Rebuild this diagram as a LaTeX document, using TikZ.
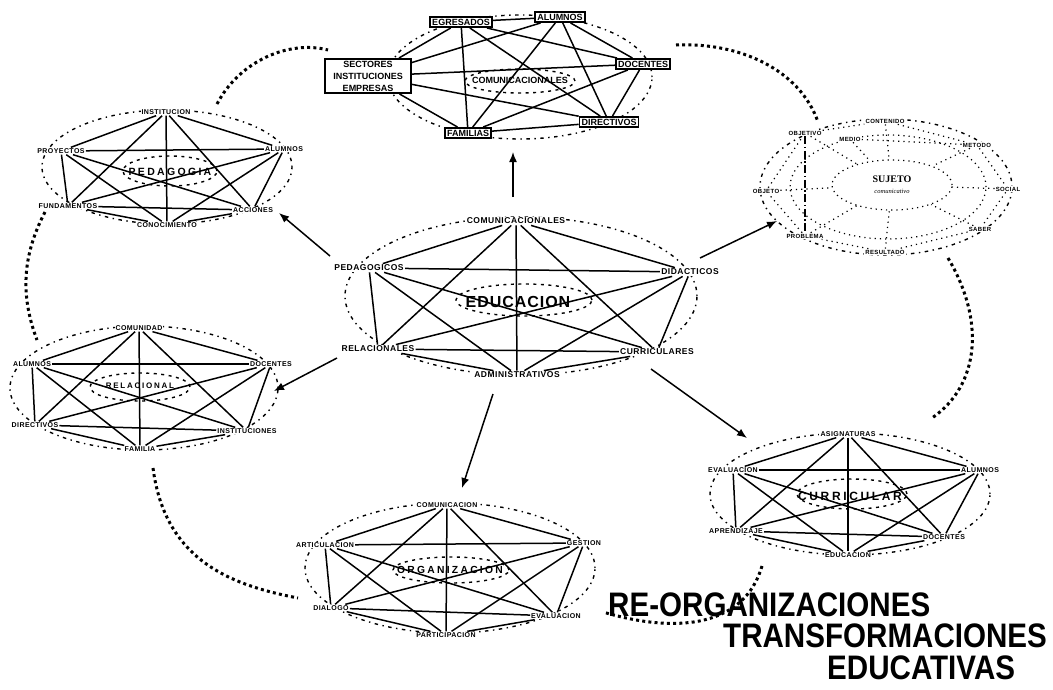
\documentclass[tikz,border=0pt]{standalone}
\usepackage{fontspec}
\setmainfont{Liberation Sans}
\newfontfamily\labfont[LetterSpace=6]{Liberation Sans}
\newfontfamily\widefont[LetterSpace=22]{Liberation Sans}
\newfontfamily\midfont[LetterSpace=6]{Liberation Sans}
\newfontfamily\serfont{Liberation Serif}
\usetikzlibrary{arrows.meta,shapes.geometric}
\newcommand\drawksix[1]{\foreach \a/\b in {1/2,1/3,1/4,1/5,1/6,2/3,2/4,2/5,2/6,3/4,3/5,3/6,4/5,4/6,5/6} {\draw[edge] (#1\a) -- (#1\b);}}
\begin{document}
\begin{tikzpicture}[x=1pt,y=-1pt,
  lab/.style={font=\labfont\bfseries\fontsize{7}{8}\selectfont, inner sep=1pt, fill=white},
  elab/.style={font=\labfont\bfseries\fontsize{8.5}{10}\selectfont, inner sep=1.2pt, fill=white},
  slab/.style={font=\labfont\bfseries\fontsize{6}{7}\selectfont, inner sep=1pt, fill=white},
  boxlab/.style={draw, line width=1.6pt, fill=white, font=\bfseries\fontsize{9}{12}\selectfont, inner sep=2pt},
  ctr/.style={font=\widefont\bfseries\fontsize{#1}{#1}\selectfont, inner sep=0pt},
  edge/.style={line width=1.5pt},
  ring/.style={line width=1.4pt, dash pattern=on 1.4pt off 4.5pt on 3.5pt off 4.5pt},
  ringin/.style={line width=1.4pt, dash pattern=on 3pt off 4.5pt},
  link/.style={line width=3pt, dash pattern=on 3pt off 3.2pt},
  arr/.style={line width=1.5pt, -{Latex[length=10pt,width=8pt]}},
  sdot/.style={line width=1.2pt, dash pattern=on 1.2pt off 4pt},
  sdashdot/.style={line width=1.3pt, dash pattern=on 8pt off 2.5pt on 1.5pt off 2.5pt},
  bigtitle/.style={font=\bfseries\fontsize{34}{38}\selectfont, inner sep=0pt, anchor=base west}]
\useasboundingbox (0,0) rectangle (1053,689);
\fill[white] (0,0) rectangle (1053,689);

% ---------- TOP cluster (COMUNICACIONALES) ----------
\draw[ring] (520,77) ellipse [x radius=132pt, y radius=62pt];
\draw[ringin] (520,81) ellipse [x radius=55pt, y radius=12pt];
\node[boxlab] (t1) at (461,22) {EGRESADOS};
\node[boxlab] (t2) at (560,17) {ALUMNOS};
\node[boxlab] (t3) at (643,64) {DOCENTES};
\node[boxlab] (t4) at (609,122) {DIRECTIVOS};
\node[boxlab] (t5) at (468,133) {FAMILIAS};
\node[boxlab, align=center, minimum width=86pt] (t6) at (368,76) {SECTORES\\INSTITUCIONES\\EMPRESAS};
\drawksix{t}
\node[font=\bfseries\fontsize{9}{10}\selectfont, inner sep=0pt] (tc) at (520,80) {COMUNICACIONALES};

% ---------- CENTER cluster (EDUCACION) ----------
\draw[ring] (521,296) ellipse [x radius=176pt, y radius=79pt];
\draw[ringin] (524,300) ellipse [x radius=68pt, y radius=16pt];
\node[elab] (e1) at (516,221) {COMUNICACIONALES};
\node[elab] (e2) at (369,268) {PEDAGOGICOS};
\node[elab] (e3) at (690,272) {DIDACTICOS};
\node[elab] (e4) at (378,349) {RELACIONALES};
\node[elab] (e5) at (657,352) {CURRICULARES};
\node[elab] (e6) at (517,375) {ADMINISTRATIVOS};
\drawksix{e}
\node[font=\midfont\bfseries\fontsize{16}{16}\selectfont, inner sep=0pt] (ec) at (518,302) {EDUCACION};

% ---------- PEDAGOGIA cluster ----------
\draw[ring] (167,167) ellipse [x radius=125pt, y radius=57pt];
\draw[ringin] (170,171) ellipse [x radius=47pt, y radius=15pt];
\node[lab] (p1) at (166,112) {INSTITUCION};
\node[lab] (p2) at (61,151) {PROYECTOS};
\node[lab] (p3) at (284,149) {ALUMNOS};
\node[lab] (p4) at (68,206) {FUNDAMENTOS};
\node[lab] (p5) at (253,210) {ACCIONES};
\node[lab] (p6) at (167,225) {CONOCIMIENTO};
\drawksix{p}
\node[ctr=10.5] (pc) at (170,172) {PEDAGOGIA};

% ---------- RELACIONAL cluster ----------
\draw[ring] (144,388) ellipse [x radius=134pt, y radius=62pt];
\draw[ringin] (140,387) ellipse [x radius=50pt, y radius=14pt];
\node[lab] (r1) at (139,328) {COMUNIDAD};
\node[lab] (r2) at (32,364) {ALUMNOS};
\node[lab] (r3) at (271,364) {DOCENTES};
\node[lab] (r4) at (35,425) {DIRECTIVOS};
\node[lab] (r5) at (247,431) {INSTITUCIONES};
\node[lab] (r6) at (140,449) {FAMILIA};
\drawksix{r}
\node[ctr=8] (rc) at (140,386) {RELACIONAL};

% ---------- ORGANIZACION cluster ----------
\draw[ring] (450,568) ellipse [x radius=145pt, y radius=65pt];
\draw[ringin] (451,570) ellipse [x radius=58pt, y radius=13pt];
\node[lab] (o1) at (447,505) {COMUNICACION};
\node[lab] (o2) at (325,545) {ARTICULACION};
\node[lab] (o3) at (584,543) {GESTION};
\node[lab] (o4) at (331,608) {DIALOGO};
\node[lab] (o5) at (556,616) {EVALUACION};
\node[lab] (o6) at (446,635) {PARTICIPACION};
\drawksix{o}
\node[ctr=10.3] (oc) at (450,570) {ORGANIZACION};

% ---------- CURRICULAR cluster ----------
\draw[ring] (850,494) ellipse [x radius=140pt, y radius=61pt];
\draw[ringin] (852,494) ellipse [x radius=55pt, y radius=15pt];
\node[lab] (c1) at (848,434) {ASIGNATURAS};
\node[lab] (c2) at (733,470) {EVALUACION};
\node[lab] (c3) at (980,470) {ALUMNOS};
\node[lab] (c4) at (736,531) {APRENDIZAJE};
\node[lab] (c5) at (944,537) {DOCENTES};
\node[lab] (c6) at (848,555) {EDUCACION};
\drawksix{c}
\node[ctr=12] (cc) at (850,496) {CURRICULAR};

% ---------- SUJETO cluster ----------
\draw[ring] (886,187) ellipse [x radius=126pt, y radius=68pt];
\draw[sdot] (888,187) ellipse [x radius=98pt, y radius=52pt];
\node[ellipse, sdot, draw, minimum width=120pt, minimum height=50pt, inner sep=0pt, align=center] (ss) at (892,185)
  {{\serfont\bfseries\fontsize{10}{10}\selectfont SUJETO}\\[-1pt]{\serfont\itshape\fontsize{6.5}{7}\selectfont comunicativo}};
\node[slab] (s1) at (805,133) {OBJETIVO};
\node[slab] (s2) at (885,121) {CONTENIDO};
\node[slab] (s3) at (850,139) {MEDIO};
\node[slab] (s4) at (977,145) {METODO};
\node[slab] (s5) at (1008,189) {SOCIAL};
\node[slab] (s6) at (980,229) {SABER};
\node[slab] (s7) at (766,191) {OBJETO};
\node[slab] (s8) at (805,236) {PROBLEMA};
\node[slab] (s9) at (885,252) {RESULTADO};
\foreach \a/\b in {1/2,2/4,4/5,5/6,6/9,9/8,8/7,7/1,3/4} {\draw[sdot] (s\a) -- (s\b);}
\foreach \a in {1,2,3,4,5,6,7,8,9} {\draw[sdot] (s\a) -- (ss);}
\draw[sdashdot] (s1) -- (s8);

% ---------- arrows from the centre ----------
\coordinate (a1s) at (513,197); \coordinate (a1e) at (513,152);
\coordinate (a2s) at (330,256); \coordinate (a2e) at (279,213);
\coordinate (a3s) at (700,258); \coordinate (a3e) at (777,221);
\coordinate (a4s) at (337,358); \coordinate (a4e) at (274,391);
\coordinate (a5s) at (493,394); \coordinate (a5e) at (462,488);
\coordinate (a6s) at (651,369); \coordinate (a6e) at (747,438);
\foreach \i in {1,...,6} {\draw[arr] (a\i s) -- (a\i e);}

% ---------- heavy dotted links ----------
\coordinate (l1a) at (217,104); \coordinate (l1b) at (328,50);
\coordinate (l2a) at (676,45);  \coordinate (l2b) at (818,122);
\coordinate (l3a) at (948,258); \coordinate (l3b) at (932,418);
\coordinate (l4a) at (762,566); \coordinate (l4b) at (603,612);
\coordinate (l5a) at (153,468); \coordinate (l5b) at (298,598);
\coordinate (l6a) at (45,212);  \coordinate (l6b) at (37,340);
\draw[link] (l1a) .. controls (240,60) and (290,40) .. (l1b);
\draw[link] (l2a) .. controls (740,42) and (800,70) .. (l2b);
\draw[link] (l3a) .. controls (985,320) and (980,385) .. (l3b);
\draw[link] (l4a) .. controls (745,625) and (680,635) .. (l4b);
\draw[link] (l5a) .. controls (165,560) and (230,585) .. (l5b);
\draw[link] (l6a) .. controls (20,260) and (22,300) .. (l6b);

% ---------- title ----------
\node[bigtitle] (ti1) at (608,616) {\scalebox{0.87}[1]{RE-ORGANIZACIONES}};
\node[bigtitle] (ti2) at (723,647) {\scalebox{0.87}[1]{TRANSFORMACIONES}};
\node[bigtitle] (ti3) at (827,679) {\scalebox{0.87}[1]{EDUCATIVAS}};
\end{tikzpicture}
\end{document}
